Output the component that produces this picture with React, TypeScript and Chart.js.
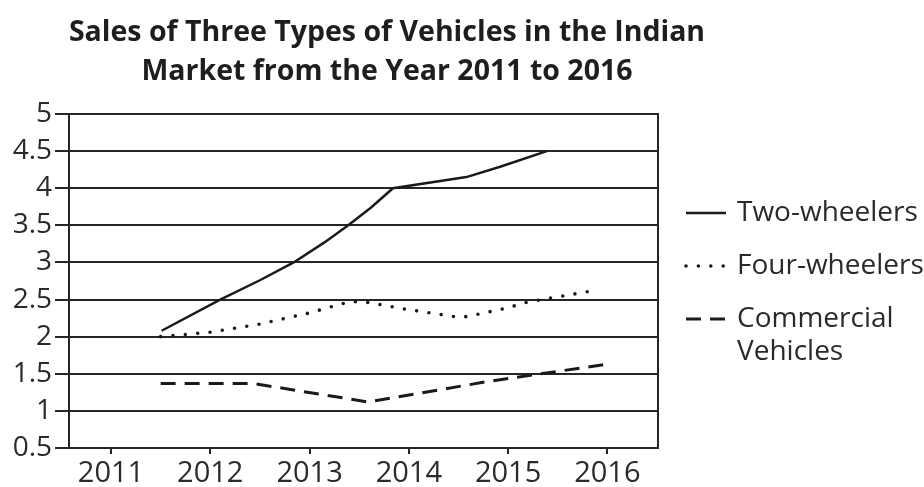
import React, { useEffect, useRef } from "react";
import { Chart, registerables } from "chart.js";

Chart.register(...registerables);

const TITLE_LINES = [
  "Sales of Three Types of Vehicles in the Indian",
  "Market from the Year 2011 to 2016",
];
const YEARS = [2011, 2012, 2013, 2014, 2015, 2016];
const SERIES_NAMES = ["Two-wheelers", "Four-wheelers", "Commercial Vehicles"];

const TWO_X = [2011.51, 2012.1, 2012.5, 2012.84, 2013.15, 2013.39, 2013.62, 2013.84, 2014.58, 2014.92, 2015.39];
const TWO_Y = [2.08, 2.5, 2.76, 3.0, 3.27, 3.5, 3.74, 4.0, 4.15, 4.29, 4.5];

const FOUR_X = [2011.5, 2012.0, 2012.5, 2013.0, 2013.4, 2013.55, 2013.97, 2014.46, 2014.58, 2014.97, 2015.21, 2015.82];
const FOUR_Y = [2.0, 2.06, 2.17, 2.32, 2.47, 2.47, 2.37, 2.27, 2.27, 2.38, 2.47, 2.61];

const COMM_X = [2011.5, 2012.43, 2013.59, 2014.77, 2016.0];
const COMM_Y = [1.37, 1.37, 1.12, 1.39, 1.63];

const LINE = "#1a1a1a";
const GRID = "#262626";
const TEXT = "#2a2a2a";
const FONT = '"Open Sans", "Noto Sans", sans-serif';

const toPoints = (xs: number[], ys: number[]) => xs.map((x, i) => ({ x, y: ys[i] }));

const overlay = {
  id: "overlay",
  afterDraw(chart: any) {
    const { ctx, chartArea } = chart;
    ctx.save();
    // right border of the plot
    ctx.strokeStyle = GRID;
    ctx.lineWidth = 2;
    ctx.beginPath();
    ctx.moveTo(chartArea.right, chartArea.top - 1);
    ctx.lineTo(chartArea.right, chartArea.bottom + 1);
    ctx.stroke();

    // title
    ctx.fillStyle = "#1e1e1e";
    ctx.font = `bold 28.5px ${FONT}`;
    ctx.textAlign = "center";
    ctx.textBaseline = "middle";
    TITLE_LINES.forEach((t, i) => ctx.fillText(t, 387, 33 + i * 39));

    // legend
    ctx.font = `28px ${FONT}`;
    ctx.textAlign = "left";
    const maxW = 924 - 737;
    let y = 213;
    chart.data.datasets.forEach((ds: any) => {
      const words = String(ds.label).split(" ");
      const lines: string[] = [];
      let cur = "";
      words.forEach((w) => {
        const test = cur ? cur + " " + w : w;
        if (cur && ctx.measureText(test).width > maxW) {
          lines.push(cur);
          cur = w;
        } else cur = test;
      });
      if (cur) lines.push(cur);

      ctx.save();
      ctx.strokeStyle = ds.borderColor;
      ctx.lineWidth = ds.borderWidth;
      ctx.lineCap = ds.borderCapStyle || "butt";
      ctx.setLineDash(ds.borderDash || []);
      ctx.beginPath();
      ctx.moveTo(686, y);
      ctx.lineTo(726, y);
      ctx.stroke();
      ctx.restore();

      ctx.fillStyle = TEXT;
      lines.forEach((l, i) => ctx.fillText(l, 737, y + i * 33));
      y += lines.length * 33 + 20;
    });
    ctx.restore();
  },
};

export default function App() {
  const ref = useRef<HTMLCanvasElement | null>(null);

  useEffect(() => {
    if (!ref.current) return;
    const chart = new Chart(ref.current, {
      type: "line",
      data: {
        datasets: [
          {
            label: SERIES_NAMES[0],
            data: toPoints(TWO_X, TWO_Y),
            borderColor: LINE,
            borderWidth: 2.5,
            pointRadius: 0,
            tension: 0,
            fill: false,
          },
          {
            label: SERIES_NAMES[1],
            data: toPoints(FOUR_X, FOUR_Y),
            borderColor: LINE,
            borderWidth: 3.6,
            borderDash: [0, 12.4],
            borderCapStyle: "round",
            pointRadius: 0,
            tension: 0,
            fill: false,
          },
          {
            label: SERIES_NAMES[2],
            data: toPoints(COMM_X, COMM_Y),
            borderColor: LINE,
            borderWidth: 3,
            borderDash: [15, 9],
            borderCapStyle: "butt",
            pointRadius: 0,
            tension: 0,
            fill: false,
          },
        ],
      },
      options: {
        animation: false,
        responsive: true,
        maintainAspectRatio: false,
        layout: { padding: { left: 0, top: 114, right: 924 - 658, bottom: 0 } },
        plugins: {
          legend: { display: false },
          title: { display: false },
          tooltip: { enabled: false },
        },
        scales: {
          x: {
            type: "linear",
            min: 2010.577,
            max: 2016.51,
            afterBuildTicks: (s: any) => {
              s.ticks = YEARS.map((v) => ({ value: v }));
            },
            afterFit: (s: any) => {
              s.height = 487 - 448;
            },
            ticks: {
              color: TEXT,
              font: { family: FONT, size: 29 },
              padding: 2,
              maxRotation: 0,
              autoSkip: false,
              callback: (v: any) => String(v),
            },
            grid: {
              drawOnChartArea: false,
              drawTicks: true,
              tickLength: 6,
              color: GRID,
              lineWidth: 2,
            },
            border: { display: true, color: GRID, width: 2 },
          },
          y: {
            type: "linear",
            min: 0.5,
            max: 5,
            afterFit: (s: any) => {
              s.width = 69;
            },
            ticks: {
              stepSize: 0.5,
              color: TEXT,
              font: { family: FONT, size: 28 },
              padding: 3,
              callback: (v: any) => String(v),
            },
            grid: {
              color: GRID,
              lineWidth: 2,
              tickLength: 14,
              drawTicks: true,
            },
            border: { display: true, color: GRID, width: 2 },
          },
        },
      },
      plugins: [overlay],
    });
    return () => chart.destroy();
  }, []);

  return (
    <div style={{ position: "absolute", left: 0, top: 0, width: 924, height: 487, background: "#fff" }}>
      <canvas ref={ref} />
    </div>
  );
}
